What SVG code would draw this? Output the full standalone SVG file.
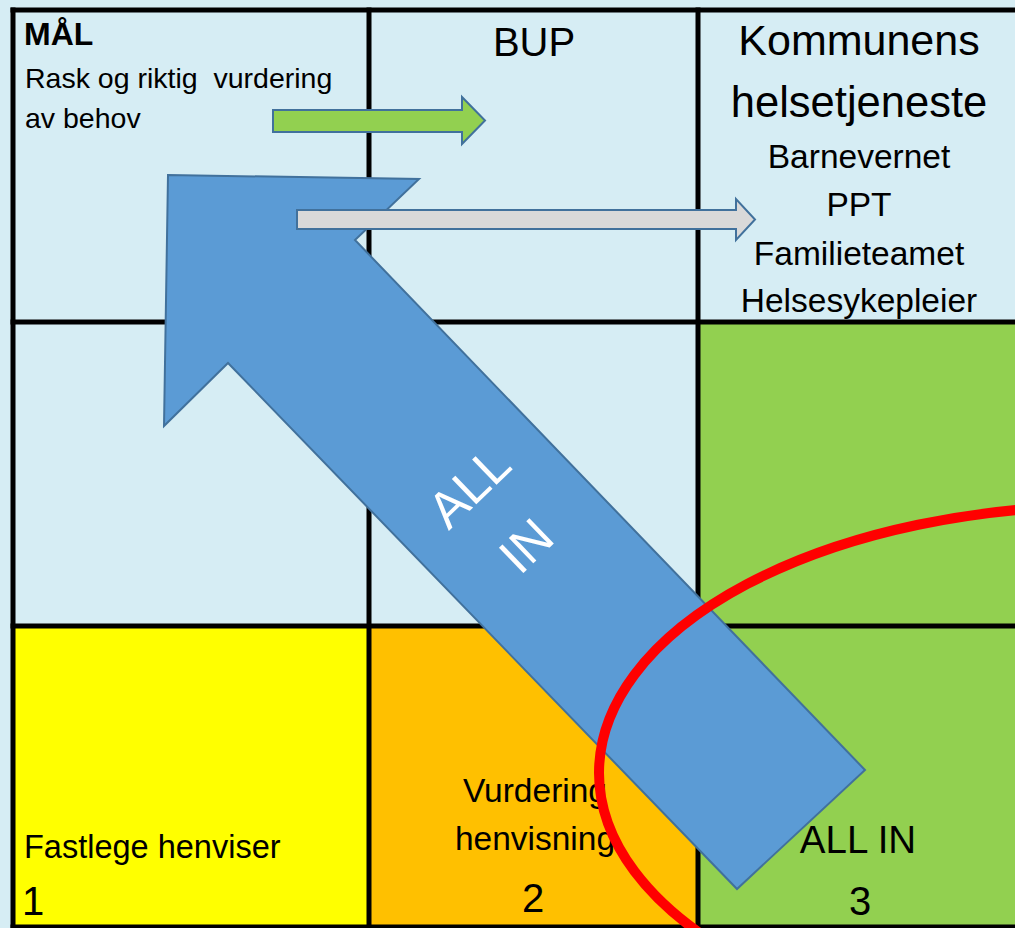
<svg xmlns="http://www.w3.org/2000/svg" width="1015" height="928" viewBox="0 0 1015 928">
  <style>
    .t { font-family: "Liberation Sans", Arial, sans-serif; fill: #000; }
    .grid { stroke: #000; stroke-width: 5; fill: none; }
    .blk { stroke: #41719C; stroke-width: 2; stroke-linejoin: miter; }
    .lb { fill: #D6EDF4; }
  </style>
  <rect x="0" y="0" width="1015" height="928" class="lb"/>

  <g id="cell-mal">
    <rect x="13" y="10" width="356" height="312" class="lb"/>
    <text class="t" x="24" y="45" font-size="32" font-weight="bold">MÅL</text>
    <text class="t" x="25" y="88" font-size="28.5">Rask og riktig&#160; vurdering</text>
    <text class="t" x="25" y="128" font-size="28.5">av behov</text>
  </g>
  <g id="cell-bup">
    <rect x="369" y="10" width="329" height="312" class="lb"/>
    <text class="t" x="534" y="56" font-size="40" text-anchor="middle">BUP</text>
  </g>
  <g id="cell-kommune">
    <rect x="698" y="10" width="317" height="312" class="lb"/>
    <text class="t" x="859" y="55" font-size="43" text-anchor="middle">Kommunens</text>
    <text class="t" x="859" y="117" font-size="43.5" text-anchor="middle">helsetjeneste</text>
    <text class="t" x="859" y="168" font-size="33.5" text-anchor="middle">Barnevernet</text>
    <text class="t" x="859" y="216" font-size="33.5" text-anchor="middle">PPT</text>
    <text class="t" x="859" y="265" font-size="33.5" text-anchor="middle">Familieteamet</text>
    <text class="t" x="859" y="312" font-size="33.5" text-anchor="middle">Helsesykepleier</text>
  </g>
  <g id="cell-r2c1"><rect x="13" y="322" width="356" height="304" class="lb"/></g>
  <g id="cell-r2c2"><rect x="369" y="322" width="329" height="304" class="lb"/></g>
  <g id="cell-r2c3"><rect x="698" y="322" width="317" height="304" fill="#92D050"/></g>
  <g id="cell-fastlege">
    <rect x="13" y="626" width="356" height="301" fill="#FFFF00"/>
    <text class="t" x="24" y="858" font-size="32.5">Fastlege henviser</text>
    <text class="t" x="22" y="915" font-size="40">1</text>
  </g>
  <g id="cell-vurdering">
    <rect x="369" y="626" width="329" height="301" fill="#FFC000"/>
    <text class="t" x="535" y="802" font-size="33.5" text-anchor="middle">Vurdering</text>
    <text class="t" x="535" y="850" font-size="33.5" text-anchor="middle">henvisning</text>
    <text class="t" x="533" y="912" font-size="40" text-anchor="middle">2</text>
  </g>
  <g id="cell-allin">
    <rect x="698" y="626" width="317" height="301" fill="#92D050"/>
    <text class="t" x="858" y="853" font-size="38.5" text-anchor="middle">ALL IN</text>
    <text class="t" x="860" y="915" font-size="40" text-anchor="middle">3</text>
  </g>

  <g id="grid">
    <line class="grid" x1="13" y1="7.5" x2="13" y2="928"/>
    <line class="grid" x1="369" y1="7.5" x2="369" y2="928"/>
    <line class="grid" x1="698" y1="7.5" x2="698" y2="928"/>
    <line class="grid" x1="10.5" y1="10" x2="1015" y2="10"/>
    <line class="grid" x1="10.5" y1="322" x2="1015" y2="322"/>
    <line class="grid" x1="10.5" y1="626" x2="1015" y2="626"/>
    <line class="grid" x1="10.5" y1="927" x2="1015" y2="927"/>
  </g>

  <g id="connectors">
    <g id="arrow-allin">
      <polygon class="blk" fill="#5B9BD5" points="168,175 419,179 355,240 865,770 737,889 228,363 164,426"/>
      <g transform="rotate(-44 480 498)" font-family="Liberation Sans, Arial, sans-serif" font-size="51" fill="#FFFFFF" text-anchor="middle">
        <text x="480" y="500">ALL</text>
        <text x="480" y="582">IN</text>
      </g>
    </g>
    <polygon id="arrow-gray" class="blk" fill="#D9D9D9" points="297,210 736,210 736,199 755,219.5 736,240 736,229 297,229"/>
    <polygon id="arrow-green" class="blk" fill="#92D050" points="273,110 462,110 462,97 485,120.5 462,144 462,132 273,132"/>
  </g>

  <ellipse id="red-ring" cx="1104" cy="773" rx="505" ry="267" fill="none" stroke="#FF0000" stroke-width="10"/>
</svg>
